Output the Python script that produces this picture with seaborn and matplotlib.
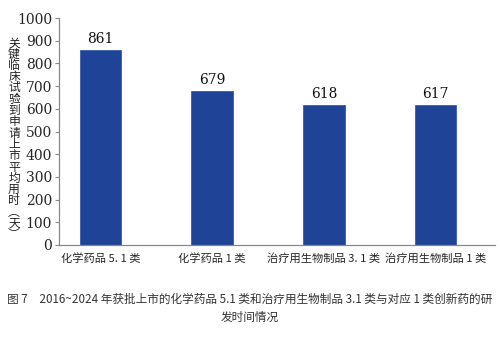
import matplotlib
matplotlib.use("Agg")
import matplotlib.pyplot as plt
import seaborn as sns
import pandas as pd

categories = ["化学药品 5. 1 类", "化学药品 1 类", "治疗用生物制品 3. 1 类", "治疗用生物制品 1 类"]
values = [861, 679, 618, 617]
yticks = [0, 100, 200, 300, 400, 500, 600, 700, 800, 900, 1000]
ylabel = "关键临床试验到申请上市平均用时︵天︶"
caption = "图 7　2016~2024 年获批上市的化学药品 5.1 类和治疗用生物制品 3.1 类与对应 1 类创新药的研\n发时间情况"

sns.set_theme(style="white")
plt.rcParams['font.family'] = ['Noto Sans CJK SC', 'DejaVu Sans']

df = pd.DataFrame({"cat": categories, "val": values})

fig = plt.figure(figsize=(5.0, 3.47), dpi=100)
ax = fig.add_axes([0.118, 0.294, 0.872, 0.654])
sns.barplot(data=df, x="cat", y="val", color="#1F4397", saturation=1, width=0.37,
            ax=ax, edgecolor="#3A5BB0", linewidth=0.6)
ax.set_xlim(-0.37, 3.53)
ax.set_ylim(0, 1000)
ax.set_yticks(yticks)
ax.set_yticklabels([str(t) for t in yticks], fontfamily="DejaVu Serif", fontsize=10)
ax.tick_params(axis="y", length=3, width=0.8, color="#888888", left=True, pad=2)
ax.tick_params(axis="x", length=0, pad=6, labelsize=8.1)
for lbl in ax.get_xticklabels():
    lbl.set_fontfamily(['Noto Sans CJK SC', 'DejaVu Sans'])
ax.set_xlabel("")
ax.set_ylabel("")
for s in ["top", "right"]:
    ax.spines[s].set_visible(False)
for s in ["left", "bottom"]:
    ax.spines[s].set_color("#888888")
    ax.spines[s].set_linewidth(0.9)

for i, v in enumerate(values):
    ax.text(i, v + 18, str(v), ha="center", va="bottom", fontsize=10,
            fontfamily="DejaVu Serif", color="#111111")

fig.text(0.028, 0.6, "\n".join(ylabel), ha="center", va="center", fontsize=8.5,
         linespacing=0.83, color="#222222")
fig.text(0.5, 0.112, caption, ha="center", va="center", fontsize=8.4,
         linespacing=1.5, color="#333333")

fig.savefig("out.png", dpi=100)
